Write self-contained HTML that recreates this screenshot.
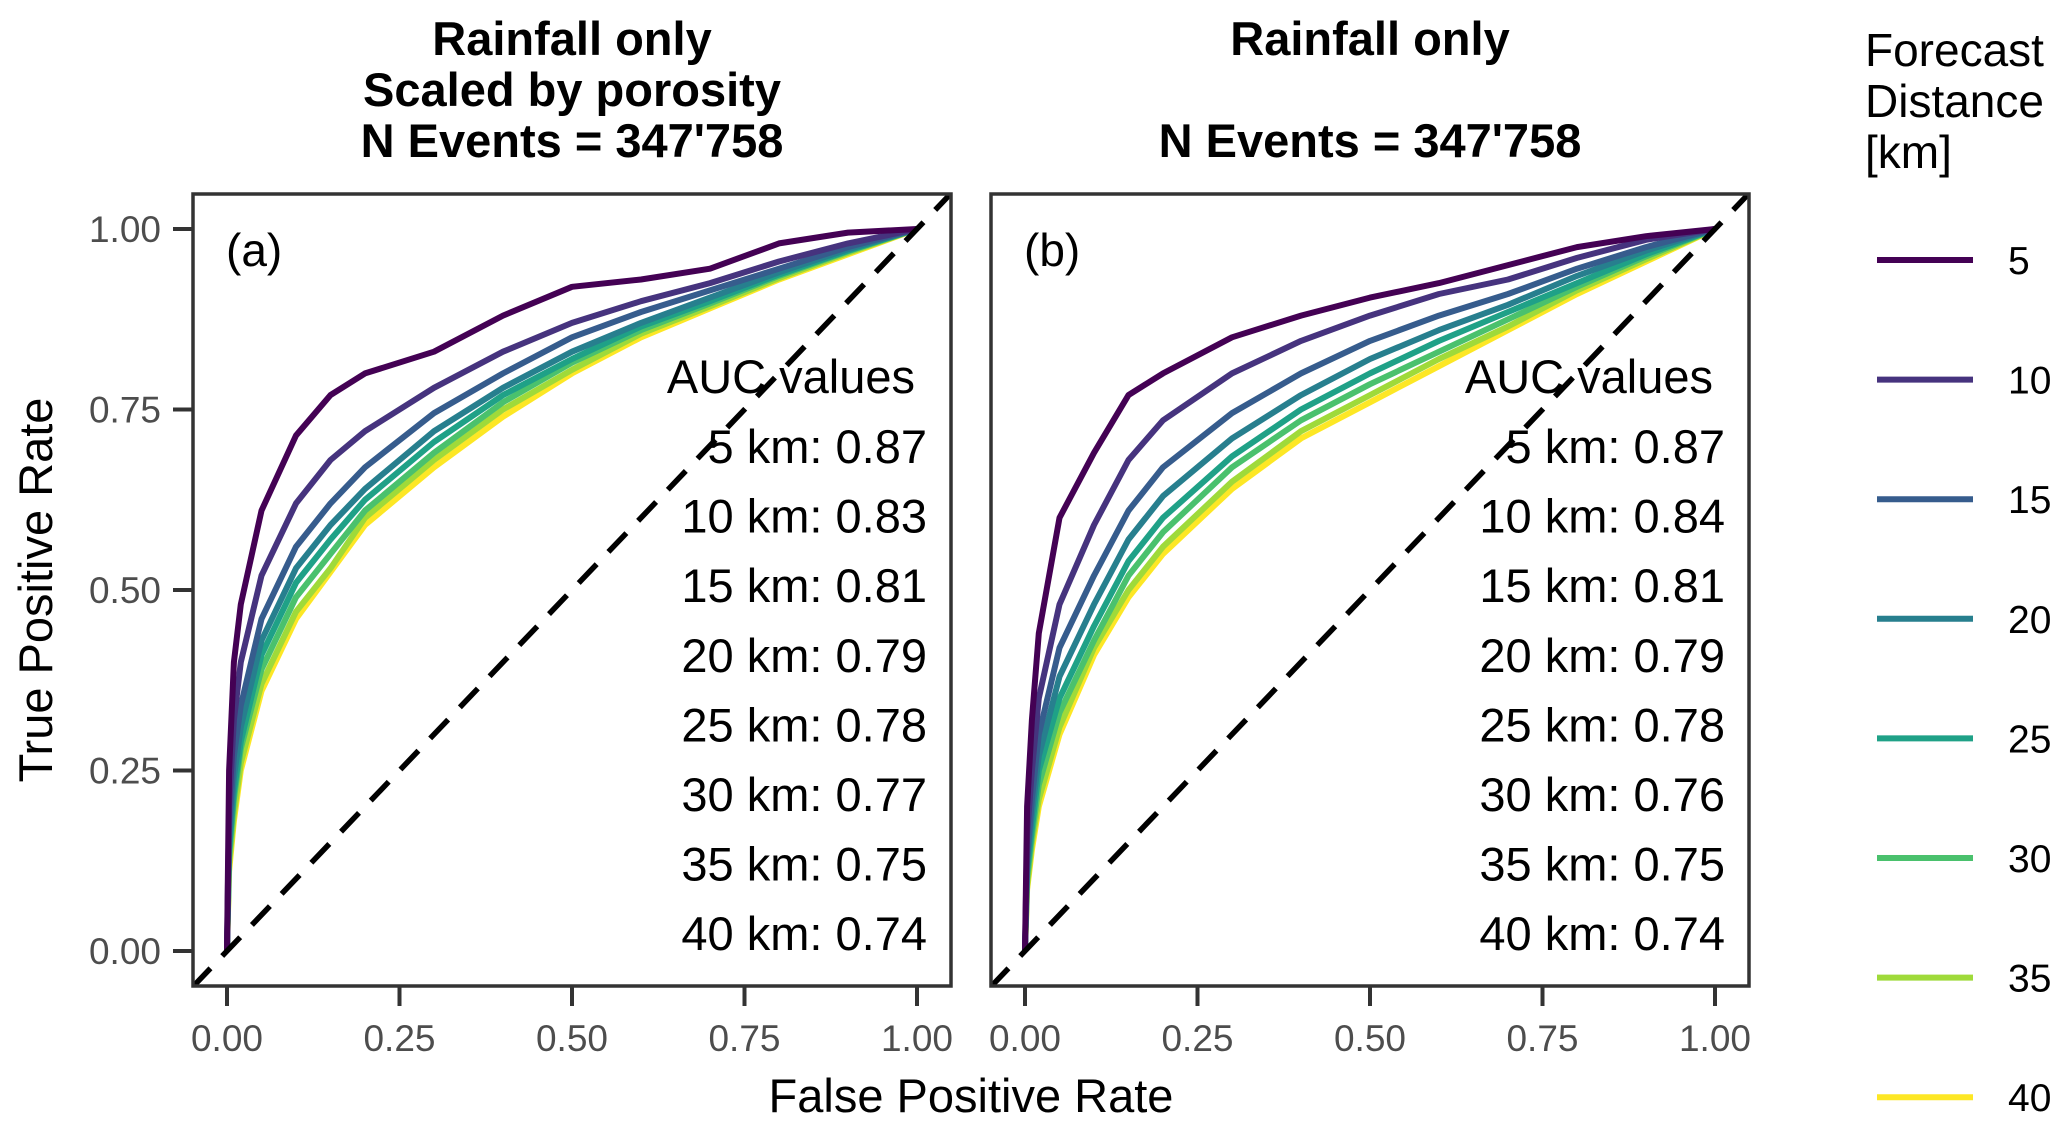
<!DOCTYPE html>
<html><head><meta charset="utf-8"><style>
html,body{margin:0;padding:0;background:#fff;}
svg{display:block;font-family:"Liberation Sans",Arial,sans-serif;}
</style></head><body>
<svg id="chart" width="2067" height="1132" viewBox="0 0 2067 1132" xmlns="http://www.w3.org/2000/svg">
<rect width="2067" height="1132" fill="#fff"/>
<g id="titles" font-weight="bold" font-size="47" text-anchor="middle" fill="#000">
<text x="572" y="55">Rainfall only</text>
<text x="572" y="106">Scaled by porosity</text>
<text x="572" y="157">N Events = 347'758</text>
<text x="1370" y="55">Rainfall only</text>
<text x="1370" y="157">N Events = 347'758</text>
</g>
<text x="971" y="1112" font-size="47" text-anchor="middle">False Positive Rate</text>
<text transform="translate(52,590) rotate(-90)" font-size="47" text-anchor="middle">True Positive Rate</text>
<g id="panels"></g>
<g id="legend">
<text x="1865" y="66" font-size="46">Forecast</text>
<text x="1865" y="117" font-size="46">Distance</text>
<text x="1865" y="168" font-size="46">[km]</text>
</g>
</svg>
<script>
const fpr = [0, 0.003, 0.01, 0.02, 0.05, 0.1, 0.15, 0.2, 0.3, 0.4, 0.5, 0.6, 0.7, 0.8, 0.9, 1];
const distances = [5, 10, 15, 20, 25, 30, 35, 40];
const colors = ["#440154","#46337E","#365C8D","#277F8E","#1FA187","#4AC16D","#9FDA3A","#FDE725"];
const tprA5  = [0, 0.25, 0.40, 0.48, 0.61, 0.714, 0.77, 0.80, 0.83, 0.88, 0.92, 0.93, 0.945, 0.98, 0.995, 1];
const tprA10 = [0, 0.20, 0.32, 0.40, 0.52, 0.62, 0.68, 0.72, 0.78, 0.83, 0.87, 0.90, 0.925, 0.955, 0.98, 1];
const tprA15 = [0, 0.17, 0.27, 0.34, 0.46, 0.56, 0.62, 0.67, 0.745, 0.80, 0.85, 0.885, 0.915, 0.945, 0.975, 1];
const tprA20 = [0, 0.15, 0.24, 0.31, 0.43, 0.53, 0.59, 0.64, 0.72, 0.78, 0.83, 0.87, 0.905, 0.94, 0.972, 1];
const tprA25 = [0, 0.14, 0.22, 0.29, 0.41, 0.51, 0.57, 0.625, 0.705, 0.77, 0.82, 0.865, 0.90, 0.937, 0.97, 1];
const tprA30 = [0, 0.13, 0.21, 0.28, 0.39, 0.49, 0.55, 0.61, 0.69, 0.76, 0.815, 0.86, 0.897, 0.935, 0.969, 1];
const tprA35 = [0, 0.12, 0.19, 0.26, 0.37, 0.47, 0.53, 0.60, 0.68, 0.75, 0.805, 0.855, 0.893, 0.932, 0.967, 1];
const tprA40 = [0, 0.11, 0.18, 0.25, 0.36, 0.46, 0.525, 0.59, 0.67, 0.74, 0.80, 0.85, 0.89, 0.93, 0.965, 1];
const tprB5  = [0, 0.20, 0.32, 0.44, 0.60, 0.69, 0.77, 0.80, 0.85, 0.88, 0.905, 0.925, 0.95, 0.975, 0.99, 1];
const tprB10 = [0, 0.16, 0.25, 0.35, 0.48, 0.59, 0.68, 0.735, 0.80, 0.845, 0.88, 0.91, 0.93, 0.96, 0.985, 1];
const tprB15 = [0, 0.13, 0.21, 0.30, 0.42, 0.52, 0.61, 0.67, 0.745, 0.80, 0.845, 0.88, 0.91, 0.945, 0.975, 1];
const tprB20 = [0, 0.12, 0.19, 0.27, 0.38, 0.48, 0.57, 0.63, 0.71, 0.77, 0.82, 0.86, 0.895, 0.935, 0.97, 1];
const tprB25 = [0, 0.11, 0.17, 0.25, 0.35, 0.45, 0.54, 0.60, 0.685, 0.75, 0.80, 0.845, 0.885, 0.925, 0.965, 1];
const tprB30 = [0, 0.10, 0.16, 0.23, 0.33, 0.43, 0.52, 0.58, 0.67, 0.735, 0.785, 0.83, 0.875, 0.92, 0.962, 1];
const tprB35 = [0, 0.09, 0.15, 0.21, 0.31, 0.42, 0.50, 0.56, 0.65, 0.72, 0.77, 0.82, 0.865, 0.915, 0.958, 1];
const tprB40 = [0, 0.085, 0.14, 0.20, 0.30, 0.41, 0.49, 0.55, 0.64, 0.71, 0.76, 0.81, 0.86, 0.91, 0.955, 1];
const aucA = ["0.87","0.83","0.81","0.79","0.78","0.77","0.75","0.74"];
const aucB = ["0.87","0.84","0.81","0.79","0.78","0.76","0.75","0.74"];
const tickValues = [0, 0.25, 0.5, 0.75, 1];
const tickLabels = ["0.00","0.25","0.50","0.75","1.00"];

const NS = "http://www.w3.org/2000/svg";
function mk(tag, attrs, parent){const e=document.createElementNS(NS,tag);for(const k in attrs)e.setAttribute(k,attrs[k]);parent.appendChild(e);return e;}
const panelsG = document.getElementById('panels');

function drawPanel(ox, label, series, auc, key){
  const x = v => ox + 34 + v*690;
  const y = v => 951 - v*722;
  const g = mk('g',{},panelsG);
  
  
  const clipId = 'clip'+key;
  const cp = mk('clipPath',{id:clipId},g);
  mk('rect',{x:ox,y:194,width:758,height:792},cp);
  const cg = mk('g',{'clip-path':'url(#'+clipId+')'},g);
  for(let s=series.length-1;s>=0;s--){
    const d = series[s].map((t,i)=>(i?'L':'M')+x(fpr[i]).toFixed(1)+','+y(t).toFixed(1)).join(' ');
    const p = mk('path',{d:d,fill:'none',stroke:colors[s],'stroke-width':6,'stroke-linejoin':'round'},cg);
    
    
  }
  const dl = mk('line',{x1:x(-0.05),y1:y(-0.05),x2:x(1.05),y2:y(1.05),stroke:'#000','stroke-width':5.5,'stroke-dasharray':'26,17'},cg);
  
  
  const fr = mk('rect',{x:ox,y:194,width:758,height:792,fill:'none',stroke:'#333','stroke-width':3.5},g);
  
  
  tickValues.forEach((v,i)=>{
    mk('line',{x1:x(v),y1:986,x2:x(v),y2:1006,stroke:'#333','stroke-width':4},g);
    const t = mk('text',{x:x(v),y:1051,'font-size':37,fill:'#4d4d4d','text-anchor':'middle'},g);
    t.textContent = tickLabels[i];
    
    
  });
  if(key==='a'){
    tickValues.forEach((v,i)=>{
      mk('line',{x1:173,y1:y(v),x2:193,y2:y(v),stroke:'#333','stroke-width':4},g);
      const t = mk('text',{x:161,y:y(v)+13,'font-size':37,fill:'#4d4d4d','text-anchor':'end'},g);
      t.textContent = tickLabels[i];
      
      
    });
  }
  const pl = mk('text',{x:ox+33,y:266,'font-size':46,fill:'#000'},g);
  pl.textContent = label;
  
  
  const at = mk('text',{x:ox+722,y:393,'font-size':47,fill:'#000','text-anchor':'end'},g);
  at.textContent = 'AUC values';
  
  
  auc.forEach((a,i)=>{
    const t = mk('text',{x:ox+734,y:463+i*69.6,'font-size':47,fill:'#000','text-anchor':'end'},g);
    t.textContent = distances[i]+' km: '+a;
    
    
  });
}
drawPanel(193,'(a)',[tprA5,tprA10,tprA15,tprA20,tprA25,tprA30,tprA35,tprA40],aucA,'a');
drawPanel(991,'(b)',[tprB5,tprB10,tprB15,tprB20,tprB25,tprB30,tprB35,tprB40],aucB,'b');

const lg = document.getElementById('legend');
distances.forEach((d,i)=>{
  const yy = 260 + i*119.6;
  const l = mk('line',{x1:1877,y1:yy,x2:1973,y2:yy,stroke:colors[i],'stroke-width':6},lg);
  
  
  const t = mk('text',{x:2008,y:yy+14,'font-size':39,fill:'#000'},lg);
  t.textContent = d;
  
  
});
</script>
</body></html>
